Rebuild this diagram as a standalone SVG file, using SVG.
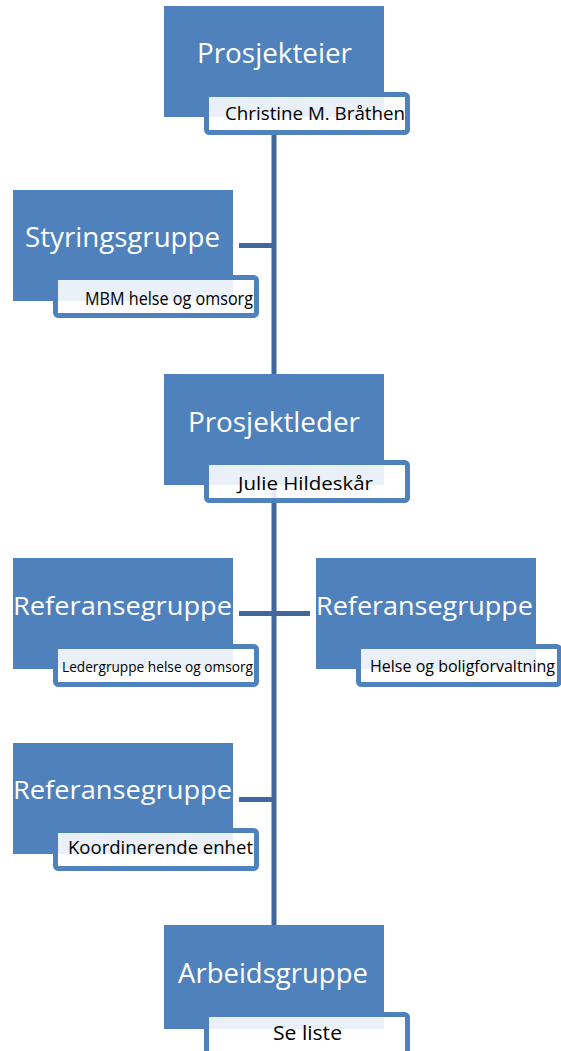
<svg xmlns="http://www.w3.org/2000/svg" width="561" height="1051" viewBox="0 0 561 1051">
<style>
.box{fill:#4F81BD;}
.sub{fill:#FFFFFF;fill-opacity:0.88;stroke:#4F81BD;stroke-width:5;}
.title{font-family:"Open Sans","Liberation Sans",sans-serif;fill:#FFFFFF;text-anchor:middle;}
.name{font-family:"Open Sans","Liberation Sans",sans-serif;fill:#000000;}
.conn{stroke:#41679C;stroke-width:5;fill:none;}
</style>
<rect width="561" height="1051" fill="#FFFFFF"/>
<g id="connectors">
<line class="conn" x1="274" y1="130" x2="274" y2="925"/>
<line class="conn" x1="239" y1="245.5" x2="274" y2="245.5"/>
<line class="conn" x1="239" y1="613.5" x2="310" y2="613.5"/>
<line class="conn" x1="239" y1="799.5" x2="274" y2="799.5"/>
</g>
<g id="prosjekteier">
<rect class="box" x="164" y="6" width="220" height="111"/>
<text class="title" x="274.5" y="63" font-size="28" textLength="155" lengthAdjust="spacingAndGlyphs">Prosjekteier</text>
<rect class="sub" x="206.5" y="94.5" width="201" height="38" rx="3"/>
<text class="name" x="225" y="120" font-size="19" textLength="180" lengthAdjust="spacingAndGlyphs">Christine M. Bråthen</text>
</g>
<g id="styringsgruppe">
<rect class="box" x="13" y="190" width="220" height="111"/>
<text class="title" x="122.5" y="247" font-size="28" textLength="195" lengthAdjust="spacingAndGlyphs">Styringsgruppe</text>
<rect class="sub" x="55.5" y="277.5" width="201" height="38" rx="3"/>
<text class="name" x="85" y="305" font-size="18.5" textLength="168" lengthAdjust="spacingAndGlyphs">MBM helse og omsorg</text>
</g>
<g id="prosjektleder">
<rect class="box" x="164" y="374" width="220" height="111"/>
<text class="title" x="274" y="432" font-size="28" textLength="172" lengthAdjust="spacingAndGlyphs">Prosjektleder</text>
<rect class="sub" x="206.5" y="462.5" width="201" height="38" rx="3"/>
<text class="name" x="238" y="490" font-size="18.5" textLength="135" lengthAdjust="spacingAndGlyphs">Julie Hildeskår</text>
</g>
<g id="referansegruppe-ledergruppe">
<rect class="box" x="13" y="558" width="220" height="111"/>
<text class="title" x="122.5" y="615" font-size="26" textLength="219" lengthAdjust="spacingAndGlyphs">Referansegruppe</text>
<rect class="sub" x="55.5" y="646.5" width="201" height="38" rx="3"/>
<text class="name" x="62" y="672" font-size="14.5" textLength="191" lengthAdjust="spacingAndGlyphs">Ledergruppe helse og omsorg</text>
</g>
<g id="referansegruppe-bolig">
<rect class="box" x="316" y="558" width="220" height="111"/>
<text class="title" x="424.5" y="615" font-size="26" textLength="217" lengthAdjust="spacingAndGlyphs">Referansegruppe</text>
<rect class="sub" x="358.5" y="646.5" width="201" height="38" rx="3"/>
<text class="name" x="370" y="672" font-size="16.5" textLength="185" lengthAdjust="spacingAndGlyphs">Helse og boligforvaltning</text>
</g>
<g id="referansegruppe-koordinerende">
<rect class="box" x="13" y="743" width="220" height="111"/>
<text class="title" x="122.5" y="799" font-size="26" textLength="219" lengthAdjust="spacingAndGlyphs">Referansegruppe</text>
<rect class="sub" x="55.5" y="830.5" width="201" height="38" rx="3"/>
<text class="name" x="68" y="854" font-size="17.5" textLength="185" lengthAdjust="spacingAndGlyphs">Koordinerende enhet</text>
</g>
<g id="arbeidsgruppe">
<rect class="box" x="164" y="925" width="220" height="104"/>
<text class="title" x="273" y="983" font-size="28" textLength="190" lengthAdjust="spacingAndGlyphs">Arbeidsgruppe</text>
<rect class="sub" x="206.5" y="1014.5" width="201" height="50" rx="3"/>
<text class="name" x="273" y="1040" font-size="20" textLength="69" lengthAdjust="spacingAndGlyphs">Se liste</text>
</g>
</svg>
